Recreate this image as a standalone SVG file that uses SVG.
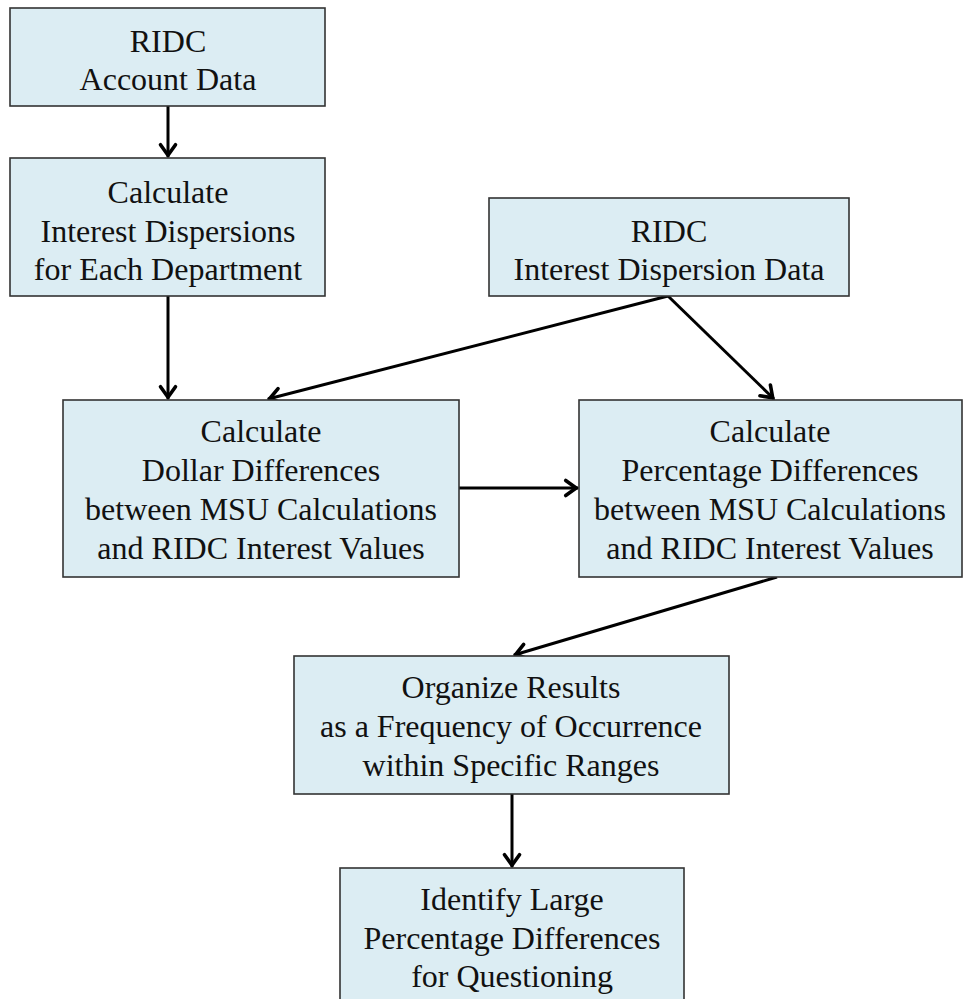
<svg xmlns="http://www.w3.org/2000/svg" width="964" height="999" viewBox="0 0 964 999">
<style>
.box{fill:#dcedf3;stroke:#333;stroke-width:1.6}
.t{font-family:"Liberation Serif","Times New Roman",serif;font-size:32px;fill:#111;text-anchor:middle}
.c{stroke:#000;stroke-width:3;fill:none;marker-end:url(#ah)}
</style>
<defs>
<marker id="ah" markerUnits="userSpaceOnUse" markerWidth="24" markerHeight="24" viewBox="-16 -12 20 24" refX="1.8" refY="0" orient="auto">
<path d="M-10.5,-7.5 L0,0 L-10.5,7.5" fill="none" stroke="#000" stroke-width="3.6" stroke-linecap="round" stroke-linejoin="miter"/>
</marker>
</defs>
<rect width="964" height="999" fill="#fff"/>
<g id="connectors">
<line class="c" x1="168" y1="106" x2="168" y2="157"/>
<line class="c" x1="168" y1="296" x2="168" y2="399"/>
<line class="c" x1="668" y1="296" x2="268" y2="399"/>
<line class="c" x1="668" y1="296" x2="774" y2="399"/>
<line class="c" x1="459" y1="488" x2="578" y2="488"/>
<line class="c" x1="777" y1="577" x2="514" y2="655"/>
<line class="c" x1="512" y1="794" x2="512" y2="867"/>
</g>
<g id="n1">
<rect class="box" x="10" y="8" width="315" height="98"/>
<text class="t" x="168" y="52">RIDC</text>
<text class="t" x="168" y="90">Account Data</text>
</g>
<g id="n2">
<rect class="box" x="10" y="158" width="315" height="138"/>
<text class="t" x="168" y="203">Calculate</text>
<text class="t" x="168" y="242">Interest Dispersions</text>
<text class="t" x="168" y="280">for Each Department</text>
</g>
<g id="n3">
<rect class="box" x="489" y="198" width="360" height="98"/>
<text class="t" x="669" y="242">RIDC</text>
<text class="t" x="669" y="280">Interest Dispersion Data</text>
</g>
<g id="n4">
<rect class="box" x="63" y="400" width="396" height="177"/>
<text class="t" x="261" y="442">Calculate</text>
<text class="t" x="261" y="481">Dollar Differences</text>
<text class="t" x="261" y="520">between MSU Calculations</text>
<text class="t" x="261" y="559">and RIDC Interest Values</text>
</g>
<g id="n5">
<rect class="box" x="579" y="400" width="383" height="177"/>
<text class="t" x="770" y="442">Calculate</text>
<text class="t" x="770" y="481">Percentage Differences</text>
<text class="t" x="770" y="520">between MSU Calculations</text>
<text class="t" x="770" y="559">and RIDC Interest Values</text>
</g>
<g id="n6">
<rect class="box" x="294" y="656" width="435" height="138"/>
<text class="t" x="511" y="698">Organize Results</text>
<text class="t" x="511" y="737">as a Frequency of Occurrence</text>
<text class="t" x="511" y="776">within Specific Ranges</text>
</g>
<g id="n7">
<rect class="box" x="340" y="868" width="344" height="140"/>
<text class="t" x="512" y="910">Identify Large</text>
<text class="t" x="512" y="949">Percentage Differences</text>
<text class="t" x="512" y="987">for Questioning</text>
</g>
</svg>
